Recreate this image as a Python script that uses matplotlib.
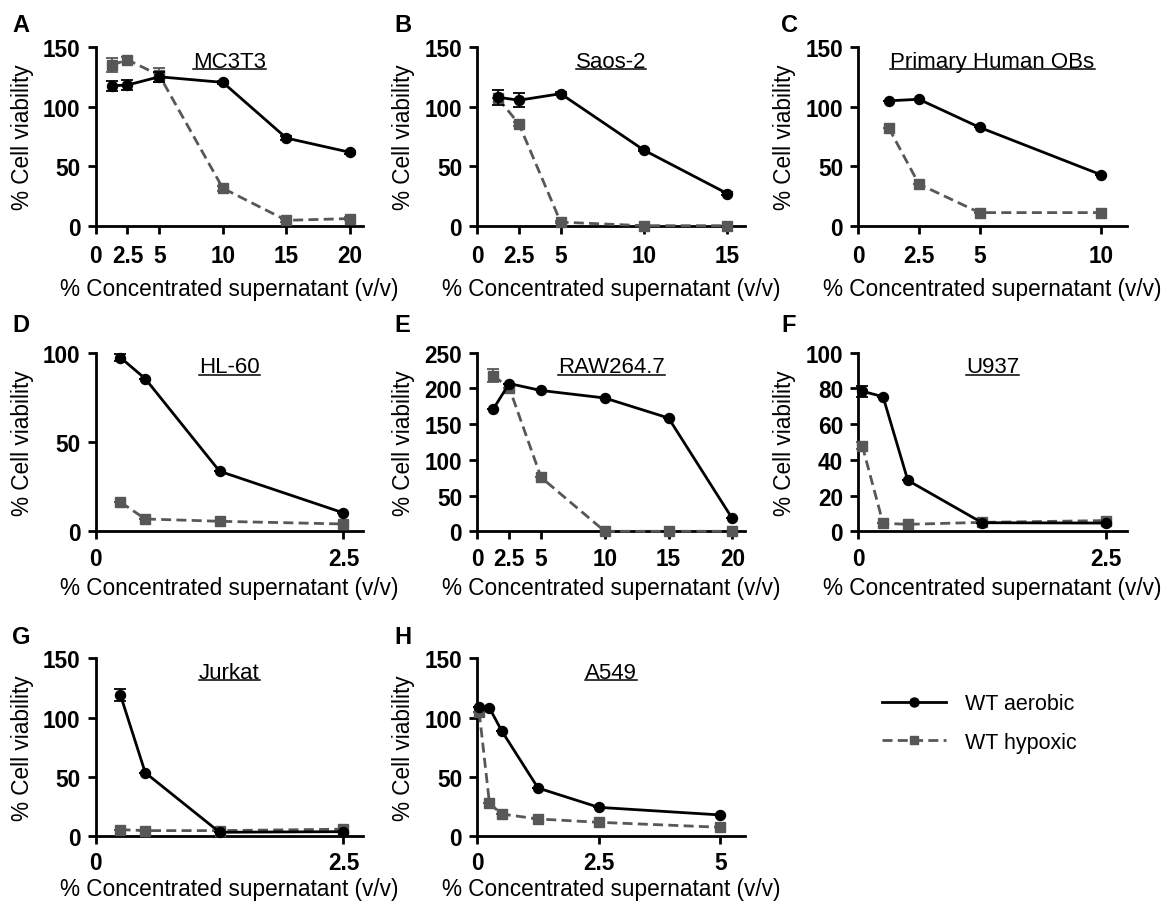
import matplotlib
matplotlib.use('Agg')
import matplotlib.pyplot as plt
from matplotlib.lines import Line2D
from matplotlib.ticker import FixedLocator, FuncFormatter
from matplotlib import font_manager as fm
import os

plt.rcParams['font.family'] = ['Liberation Sans', 'DejaVu Sans']

# ---------------- data ----------------
titles = ['MC3T3', 'Saos-2', 'Primary Human OBs', 'HL-60', 'RAW264.7', 'U937', 'Jurkat', 'A549']
letters = ['A', 'B', 'C', 'D', 'E', 'F', 'G', 'H']

a_x = [1.25, 2.5, 5, 10, 15, 20]
a_aer = [117.6, 118.3, 125.2, 120.5, 73.7, 61.7]
a_aer_err = [4, 4, 4, 1.5, 1.5, 1.5]
a_hyp = [135, 139.5, 126.5, 31.5, 4.5, 6]
a_hyp_err = [6, 2, 6, 2, 1, 1]

b_x = [1.25, 2.5, 5, 10, 15]
b_aer = [108, 105.5, 111, 63.5, 27]
b_aer_err = [6.3, 5.9, 1, 1, 1]
b_hyp = [107, 85.5, 3, 0, 0]
b_hyp_err = [0, 2, 1, 0, 0]

c_x = [1.25, 2.5, 5, 10]
c_aer = [105, 106.3, 82.7, 42.9]
c_aer_err = [0, 0, 0, 0]
c_hyp = [82.4, 35, 11, 11]
c_hyp_err = [0, 0, 0, 0]

d_x = [0.25, 0.5, 1.25, 2.5]
d_aer = [97.2, 85.4, 33.6, 10.3]
d_aer_err = [2, 0, 0, 0]
d_hyp = [16.3, 6.9, 5.6, 4.1]
d_hyp_err = [0, 0, 0, 0]

e_x = [1.25, 2.5, 5, 10, 15, 20]
e_aer = [171, 206.7, 197, 186.5, 158.5, 18]
e_aer_err = [0, 0, 0, 0, 0, 0]
e_hyp = [217.5, 201, 75.5, 0, 0, 0]
e_hyp_err = [9, 0, 0, 0, 0, 0]

f_x = [0.04, 0.25, 0.5, 1.25, 2.5]
f_aer = [78.4, 75.3, 28.5, 4.8, 4.6]
f_aer_err = [3, 0, 0, 0, 0]
f_hyp = [47.9, 4.5, 3.9, 5, 6]
f_hyp_err = [2, 0, 0, 0, 0]

g_x = [0.25, 0.5, 1.25, 2.5]
g_aer = [119, 53.6, 3.4, 3.9]
g_aer_err = [5, 0, 0, 0]
g_hyp = [5.6, 4.8, 4.8, 6.0]
g_hyp_err = [0, 0, 0, 0]

h_x = [0.04, 0.25, 0.5, 1.25, 2.5, 5]
h_aer = [108.7, 108.2, 89, 40.7, 24.4, 18]
h_aer_err = [0, 0, 0, 0, 0, 0]
h_hyp = [104.5, 27.8, 18.8, 14.6, 11.8, 7.6]
h_hyp_err = [0, 0, 0, 0, 0, 0]

xticks = [[0, 2.5, 5, 10, 15, 20], [0, 2.5, 5, 10, 15], [0, 2.5, 5, 10], [0, 2.5],
          [0, 2.5, 5, 10, 15, 20], [0, 2.5], [0, 2.5], [0, 2.5, 5]]
yticks = [[0, 50, 100, 150], [0, 50, 100, 150], [0, 50, 100, 150], [0, 50, 100],
          [0, 50, 100, 150, 200, 250], [0, 20, 40, 60, 80, 100], [0, 50, 100, 150], [0, 50, 100, 150]]
xmax = [21.05, 16.06, 11.07, 2.70, 21.0, 2.71, 2.70, 5.51]

series_labels = ['WT aerobic', 'WT hypoxic']

panels = [
    (a_x, a_aer, a_aer_err, a_hyp, a_hyp_err),
    (b_x, b_aer, b_aer_err, b_hyp, b_hyp_err),
    (c_x, c_aer, c_aer_err, c_hyp, c_hyp_err),
    (d_x, d_aer, d_aer_err, d_hyp, d_hyp_err),
    (e_x, e_aer, e_aer_err, e_hyp, e_hyp_err),
    (f_x, f_aer, f_aer_err, f_hyp, f_hyp_err),
    (g_x, g_aer, g_aer_err, g_hyp, g_hyp_err),
    (h_x, h_aer, h_aer_err, h_hyp, h_hyp_err),
]


def font_file(wanted):
    for f in fm.fontManager.ttflist:
        if os.path.basename(f.fname).lower() == wanted.lower():
            return f.fname
    return None


bold_file = font_file('LiberationSans-Bold.ttf')
reg_file = font_file('LiberationSans-Regular.ttf')


def fp(size, bold=False):
    f = bold_file if bold else reg_file
    if f:
        return fm.FontProperties(fname=f, size=size)
    return fm.FontProperties(family='Liberation Sans', weight='bold' if bold else 'normal', size=size)


# ---------------- layout ----------------
W, H = 1167, 903
fig = plt.figure(figsize=(W / 100, H / 100), dpi=100)

col_left = [95.7, 477.3, 858.3]
col_right = [363.3, 745.0, 1126.7]
row_top = [48.3, 353.6, 659.3]
row_bot = [226.7, 532.3, 837.3]
row_tickpad = [7.0, 5.6, 4.5]
row_labelpad = [7.1, 4.2, 2.4]
letter_x = [12, 394, 781]
letter_y = [26, 326, 638]

HYP_COLOR = '#575757'
LW = 2.0
FS = 16.3

title_texts = []
legend_handles = None
for i, (x, aer, aer_err, hyp, hyp_err) in enumerate(panels):
    r, c = divmod(i, 3)
    l = col_left[c] / W
    w = (col_right[c] - col_left[c]) / W
    b = 1 - row_bot[r] / H
    h = (row_bot[r] - row_top[r]) / H
    ax = fig.add_axes([l, b, w, h])

    lh, = ax.plot(x, hyp, color=HYP_COLOR, lw=LW, linestyle=(0, (3.6, 1.9)),
                  marker='s', markersize=7, markerfacecolor=HYP_COLOR,
                  markeredgecolor=HYP_COLOR, clip_on=False, zorder=3)
    ax.errorbar(x, hyp, yerr=hyp_err, fmt='none', ecolor=HYP_COLOR, elinewidth=1.3,
                capsize=4.5, capthick=1.3, clip_on=False, zorder=2.5)
    la, = ax.plot(x, aer, color='black', lw=LW, linestyle='-',
                  marker='o', markersize=7.2, markerfacecolor='black',
                  markeredgecolor='black', clip_on=False, zorder=5)
    ax.errorbar(x, aer, yerr=aer_err, fmt='none', ecolor='black', elinewidth=1.3,
                capsize=4.5, capthick=1.3, clip_on=False, zorder=4.5)
    if i == 0:
        legend_handles = [la, lh]

    ax.set_xlim(0, xmax[i])
    ax.set_ylim(0, yticks[i][-1])
    ax.xaxis.set_major_locator(FixedLocator(xticks[i]))
    ax.yaxis.set_major_locator(FixedLocator(yticks[i]))
    fmt = FuncFormatter(lambda v, p: '{:g}'.format(v))
    ax.xaxis.set_major_formatter(fmt)
    ax.yaxis.set_major_formatter(fmt)
    for s in ['top', 'right']:
        ax.spines[s].set_visible(False)
    for s in ['left', 'bottom']:
        ax.spines[s].set_linewidth(2.0)
    ax.tick_params(axis='both', direction='out', length=6, width=2.0, labelsize=FS)
    ax.tick_params(axis='x', pad=row_tickpad[r])
    ax.tick_params(axis='y', pad=5)
    for lab in ax.get_xticklabels() + ax.get_yticklabels():
        lab.set_fontproperties(fp(FS, bold=True))
    ax.set_xlabel('% Concentrated supernatant (v/v)', fontproperties=fp(FS),
                  labelpad=row_labelpad[r])
    ax.set_ylabel('% Cell viability', fontproperties=fp(FS), labelpad=6.5)
    ax.patch.set_visible(False)

    t = ax.text(0.5, 0.92, titles[i], transform=ax.transAxes, ha='center', va='center',
                fontproperties=fp(16))
    title_texts.append(t)

    fig.text(letter_x[c] / W, 1 - letter_y[r] / H, letters[i], ha='left', va='center',
             fontproperties=fp(17, bold=True))

fig.legend(handles=legend_handles, labels=series_labels, loc='center left',
           bbox_to_anchor=(881.7 / W, 1 - 724 / H), frameon=False, prop=fp(15.5),
           handlelength=3.0, handletextpad=0.85, labelspacing=0.8, borderpad=0,
           borderaxespad=0, markerscale=0.9)

# underline titles
fig.canvas.draw()
rend = fig.canvas.get_renderer()
inv = fig.transFigure.inverted()
for t in title_texts:
    bb = t.get_window_extent(rend)
    em = t.get_fontsize() * fig.dpi / 72
    y = bb.y0 + 0.13 * em
    (x0, y0), (x1, y1) = inv.transform([(bb.x0, y), (bb.x1, y)])
    fig.add_artist(Line2D([x0, x1], [y0, y1], transform=fig.transFigure,
                          color='black', lw=1.1))

fig.savefig('out.png', dpi=100)
